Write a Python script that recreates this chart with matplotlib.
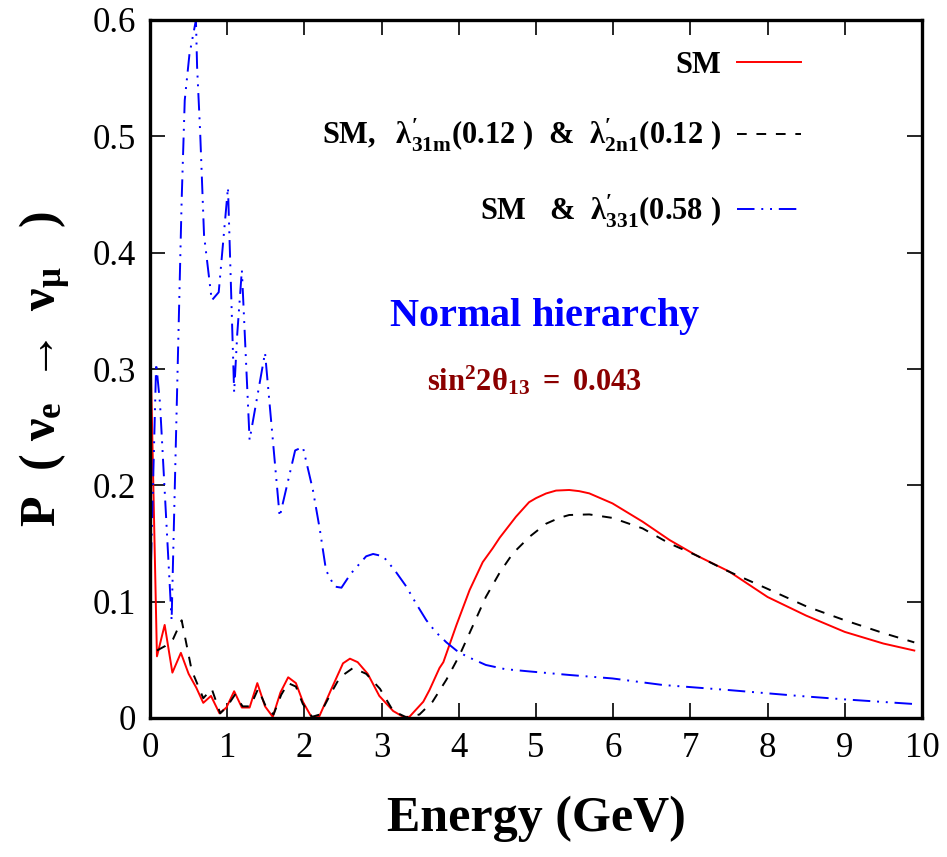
import matplotlib
matplotlib.use("Agg")
import matplotlib.pyplot as plt
from matplotlib.ticker import FixedLocator, FixedFormatter

plt.rcParams['mathtext.fontset'] = 'custom'
plt.rcParams['mathtext.rm'] = 'Liberation Serif:bold'
plt.rcParams['mathtext.bf'] = 'Liberation Serif:bold'
plt.rcParams['mathtext.it'] = 'Liberation Serif:italic:bold'
plt.rcParams['mathtext.default'] = 'bf'

# ---- data ----
sm_E = [0.0, 0.09, 0.19, 0.29, 0.40, 0.50, 0.60, 0.69, 0.79, 0.90, 0.99, 1.09, 1.19, 1.29,
        1.39, 1.49, 1.59, 1.69, 1.79, 1.89, 1.98, 2.09, 2.19, 2.35, 2.50, 2.59, 2.69, 2.82,
        2.97, 3.15, 3.28, 3.36, 3.54, 3.62, 3.75, 3.80, 3.97, 4.14, 4.31, 4.44, 4.53, 4.74,
        4.91, 5.00, 5.13, 5.26, 5.43, 5.56, 5.69, 5.99, 6.38, 6.73, 7.07, 7.50, 8.00, 8.50,
        9.00, 9.50, 9.90]
sm_P = [0.335, 0.053, 0.080, 0.039, 0.056, 0.038, 0.026, 0.013, 0.019, 0.004, 0.009, 0.023,
        0.009, 0.009, 0.030, 0.010, 0.001, 0.022, 0.035, 0.030, 0.014, 0.001, 0.001, 0.025,
        0.047, 0.051, 0.048, 0.038, 0.019, 0.006, 0.001, 0.001, 0.014, 0.024, 0.043, 0.048,
        0.080, 0.110, 0.134, 0.146, 0.155, 0.173, 0.1855, 0.189, 0.193, 0.1955, 0.196, 0.195,
        0.1931, 0.1845, 0.1688, 0.153, 0.140, 0.126, 0.104, 0.088, 0.074, 0.064, 0.058]

rpv1_E = [0.09, 0.20, 0.30, 0.41, 0.54, 0.69, 0.80, 0.91, 1.00, 1.10, 1.20, 1.30, 1.40,
          1.50, 1.60, 1.70, 1.79, 1.89, 1.98, 2.10, 2.20, 2.35, 2.46, 2.63, 2.80, 2.98,
          3.15, 3.32, 3.49, 3.66, 3.84, 4.01, 4.18, 4.35, 4.53, 4.70, 4.92, 5.13, 5.30,
          5.43, 5.69, 5.99, 6.38, 6.73, 7.07, 7.46, 8.00, 8.50, 9.00, 9.50, 9.90]
rpv1_P = [0.058, 0.062, 0.068, 0.084, 0.041, 0.017, 0.025, 0.004, 0.010, 0.020, 0.010,
          0.010, 0.025, 0.010, 0.003, 0.020, 0.030, 0.027, 0.012, 0.001, 0.003, 0.022,
          0.035, 0.043, 0.038, 0.025, 0.006, 0.0006, 0.003, 0.014, 0.033, 0.054, 0.079,
          0.104, 0.125, 0.1415, 0.156, 0.167, 0.172, 0.1745, 0.175, 0.172, 0.163, 0.150,
          0.140, 0.127, 0.111, 0.096, 0.084, 0.073, 0.065]

rpv2_E = [0.0, 0.08, 0.13, 0.28, 0.41, 0.45, 0.51, 0.595, 0.61, 0.65, 0.70, 0.80, 0.89,
          1.01, 1.09, 1.13, 1.19, 1.29, 1.49, 1.68, 1.88, 1.98, 2.11, 2.20, 2.28, 2.39,
          2.48, 2.60, 2.72, 2.80, 2.89, 3.02, 3.17, 3.32, 3.45, 3.58, 3.70, 3.84, 3.97,
          4.10, 4.35, 4.60, 4.92, 5.43, 5.99, 6.64, 7.50, 8.40, 9.00, 9.90]
rpv2_P = [0.10, 0.305, 0.27, 0.084, 0.445, 0.531, 0.570, 0.600, 0.56, 0.503, 0.415, 0.359,
          0.366, 0.456, 0.280, 0.330, 0.385, 0.239, 0.314, 0.173, 0.230, 0.233, 0.196, 0.162,
          0.127, 0.113, 0.112, 0.124, 0.133, 0.139, 0.141, 0.139, 0.127, 0.113, 0.098, 0.084,
          0.074, 0.065, 0.058, 0.053, 0.0456, 0.042, 0.040, 0.037, 0.034, 0.0284, 0.024,
          0.019, 0.016, 0.012]

x_ticks = [0, 1, 2, 3, 4, 5, 6, 7, 8, 9, 10]
x_ticklabels = ["0", "1", "2", "3", "4", "5", "6", "7", "8", "9", "10"]
y_ticks = [0, 0.1, 0.2, 0.3, 0.4, 0.5, 0.6]
y_ticklabels = ["0", "0.1", "0.2", "0.3", "0.4", "0.5", "0.6"]

label_sm = r"$SM$"
label_rpv1 = r"$SM,\ \ \lambda^{\prime}_{31m}(0.12\ )\ \ &\ \ \lambda^{\prime}_{2n1}(0.12\ )$"
label_rpv2 = r"$SM\ \ \ &\ \ \lambda^{\prime}_{331}(0.58\ )$"

# ---- figure ----
fig = plt.figure(figsize=(9.47, 8.57), dpi=100)
ax = fig.add_axes([150/947, 1-718/857, 772/947, 698/857])

ax.plot(sm_E, sm_P, color='red', lw=1.4, label=label_sm)
ax.plot(rpv1_E, rpv1_P, color='black', lw=1.4, dashes=(5, 5), label=label_rpv1)
ax.plot(rpv2_E, rpv2_P, color='blue', lw=1.4, dashes=(9, 3.5, 1, 3.5, 1, 3.5), label=label_rpv2)

ax.set_xlim(0, 10)
ax.set_ylim(0, 0.6)
ax.xaxis.set_major_locator(FixedLocator(x_ticks))
ax.xaxis.set_major_formatter(FixedFormatter(x_ticklabels))
ax.yaxis.set_major_locator(FixedLocator(y_ticks))
ax.yaxis.set_major_formatter(FixedFormatter(y_ticklabels))

ax.tick_params(direction='in', length=11, width=1.2, top=True, right=True,
               labelsize=25, pad=10)
for lab in ax.get_xticklabels() + ax.get_yticklabels():
    lab.set_family('Liberation Serif')
for s in ax.spines.values():
    s.set_linewidth(2.4)

ax.set_xlabel("Energy (GeV)", fontsize=36, fontweight='bold', family='Liberation Serif',
              labelpad=22)
ax.set_ylabel(r"$P\ \ (\ \nu_{e}\ \rightarrow\ \nu_{\mu}\ \ \ )$", fontsize=36, labelpad=14)

ax.text(0.511, 0.5745, r"$Normal\ hierarchy$", color='blue', fontsize=29,
        ha='center', va='center', transform=ax.transAxes)
ax.text(0.498, 0.484, r"$sin^{2}2\theta_{13}\ =\ 0.043$",
        color='#8b0000', fontsize=22, ha='center', va='center', transform=ax.transAxes)

leg = ax.legend(loc='upper right', bbox_to_anchor=(0.859, 0.975), frameon=False,
                markerfirst=False, fontsize=22, handlelength=2.1, labelspacing=1.25,
                handletextpad=0.5, borderaxespad=0)

fig.savefig("out.png", dpi=100)
